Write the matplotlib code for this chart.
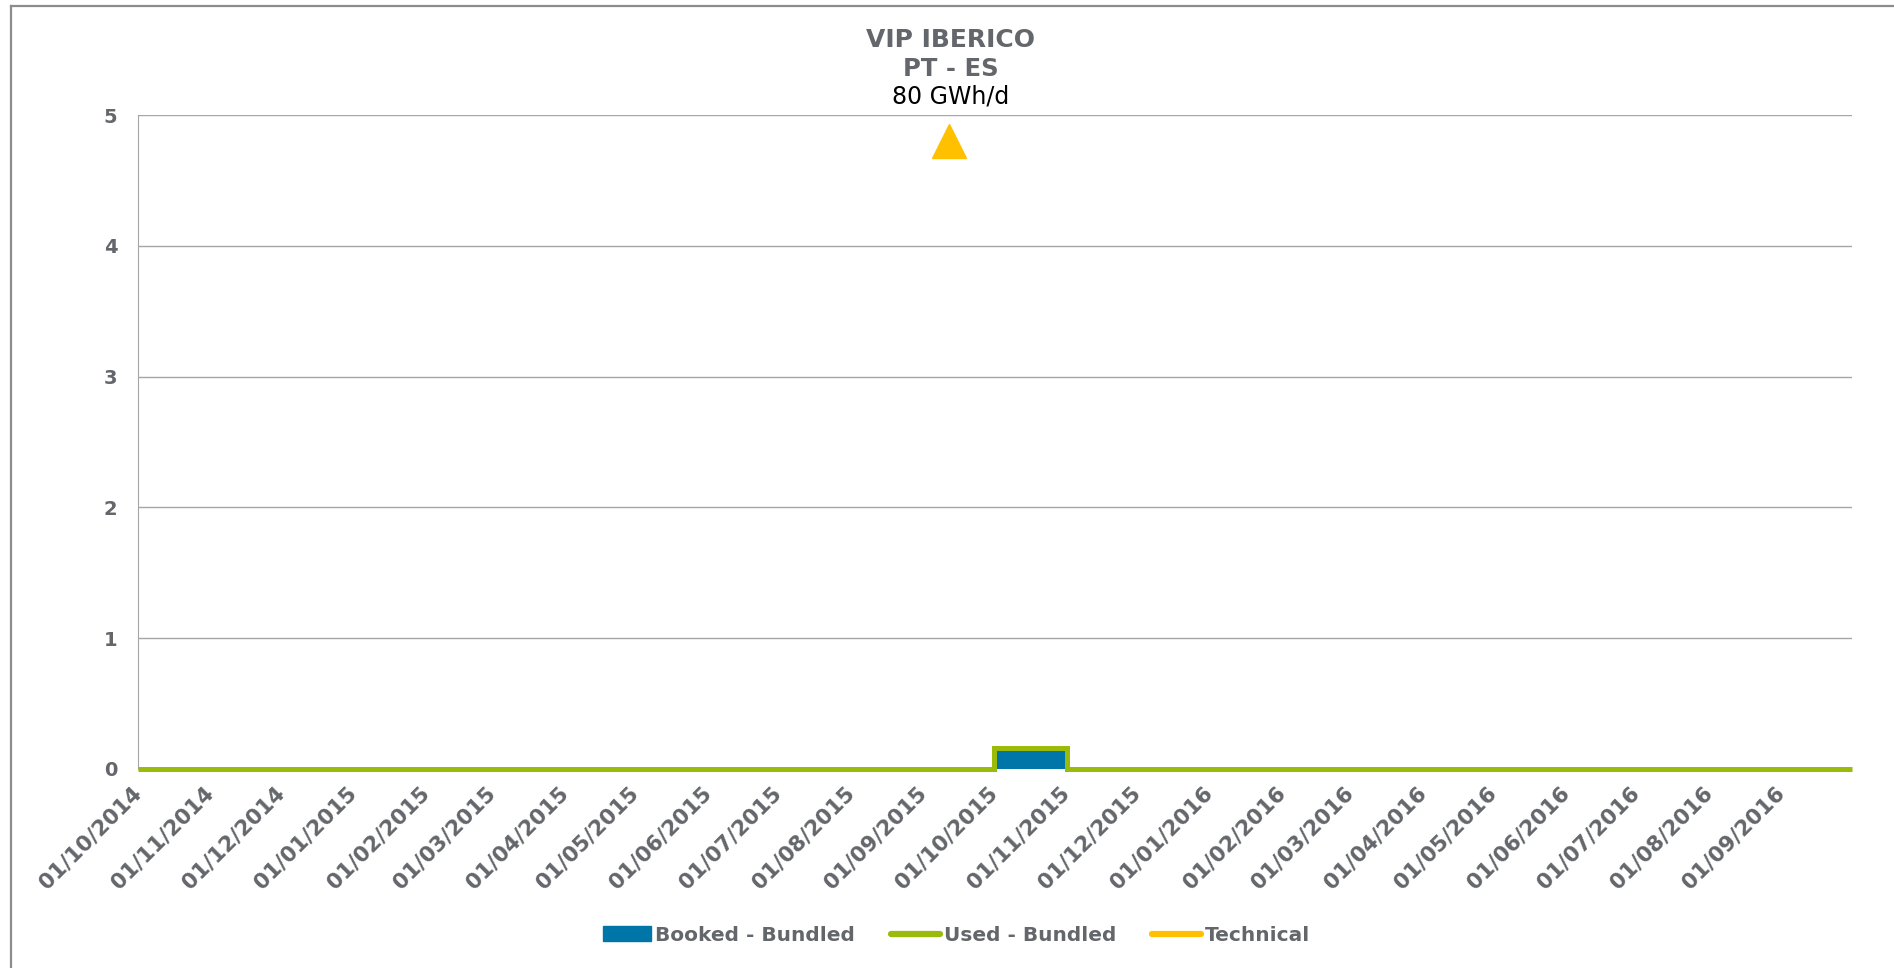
import numpy as np
import pandas as pd
import matplotlib
matplotlib.use('Agg')
import matplotlib.pyplot as plt
import matplotlib.dates as mdates
from matplotlib.patches import Patch
from matplotlib.lines import Line2D

# monthly values, gas year Oct 2014 - Sep 2016 (GWh/d, chart scale)
months = pd.date_range('2014-10-01', '2016-09-01', freq='MS')
booked = [0, 0, 0, 0, 0, 0, 0, 0, 0, 0, 0, 0,
          0.15, 0, 0, 0, 0, 0, 0, 0, 0, 0, 0, 0]
used = [0, 0, 0, 0, 0, 0, 0, 0, 0, 0, 0, 0,
        0.16, 0, 0, 0, 0, 0, 0, 0, 0, 0, 0, 0]
technical = 80  # off the scale, shown as a marker only
technical_date = pd.Timestamp('2015-09-12')
technical_marker_y = 4.8

title_lines = ['VIP IBERICO', 'PT - ES']
tick_labels = [m.strftime('%d/%m/%Y') for m in months]

blue = '#0076A8'
green = '#9BBB0A'
yellow = '#FFC000'
grey_txt = '#63666A'

edges = list(months) + [pd.Timestamp('2016-10-01')]
edge_num = mdates.date2num(edges)

fig = plt.figure(figsize=(18.94, 9.68), dpi=100)
ax = fig.add_axes([0.0729, 0.2056, 0.905, 0.6754])

# outer frame (only left and top edges fall inside the picture)
fig.add_artist(Line2D([0.0058, 0.0058], [0, 0.9938], color='#8c8c8c',
                      linewidth=1.6, transform=fig.transFigure))
fig.add_artist(Line2D([0.0058, 1], [0.9938, 0.9938], color='#8c8c8c',
                      linewidth=1.6, transform=fig.transFigure))

ax.stairs(booked, edge_num, fill=True, color=blue, zorder=2)
ax.stairs(used, edge_num, color=green, linewidth=3.6, zorder=3, clip_on=False)
ax.plot([mdates.date2num(technical_date)], [technical_marker_y], marker='^',
        markersize=24, color=yellow, linestyle='none', clip_on=False, zorder=4)

ax.set_xlim(edge_num[0], edge_num[-1])
ax.set_ylim(0, 5)
ax.set_yticks(range(6))
ax.yaxis.grid(True, color='#a6a6a6', linewidth=1)
ax.set_axisbelow(True)

ax.set_xticks(mdates.date2num(list(months)))
ax.set_xticklabels(tick_labels, rotation=45, ha='right', va='center',
                   rotation_mode='anchor')
ax.tick_params(axis='x', length=0, pad=15, labelsize=15.5, labelcolor=grey_txt)
ax.tick_params(axis='y', length=0, pad=15, labelsize=14, labelcolor=grey_txt)
for lbl in ax.get_xticklabels() + ax.get_yticklabels():
    lbl.set_fontweight('bold')

for s in ['top', 'right', 'bottom']:
    ax.spines[s].set_visible(False)
ax.spines['left'].set_color('#a6a6a6')

fig.text(0.502, 0.9587, title_lines[0], ha='center', va='center',
         fontsize=18, fontweight='bold', color=grey_txt)
fig.text(0.502, 0.9287, title_lines[1], ha='center', va='center',
         fontsize=17.5, fontweight='bold', color=grey_txt)
fig.text(0.502, 0.900, f'{technical} GWh/d', ha='center', va='center',
         fontsize=17, color='black')

handles = [Patch(facecolor=blue, edgecolor=blue),
           Line2D([], [], color=green, linewidth=4.5, solid_capstyle='round'),
           Line2D([], [], color=yellow, linewidth=4.5, solid_capstyle='round')]
fig.legend(handles, ['Booked - Bundled', 'Used - Bundled', 'Technical'],
           loc='center', bbox_to_anchor=(0.505, 0.034), ncol=3, frameon=False,
           handlelength=2.4, handletextpad=0.2, columnspacing=1.8,
           prop={'size': 14.5, 'weight': 'bold'}, labelcolor=grey_txt)

fig.savefig('out.png', dpi=100)
